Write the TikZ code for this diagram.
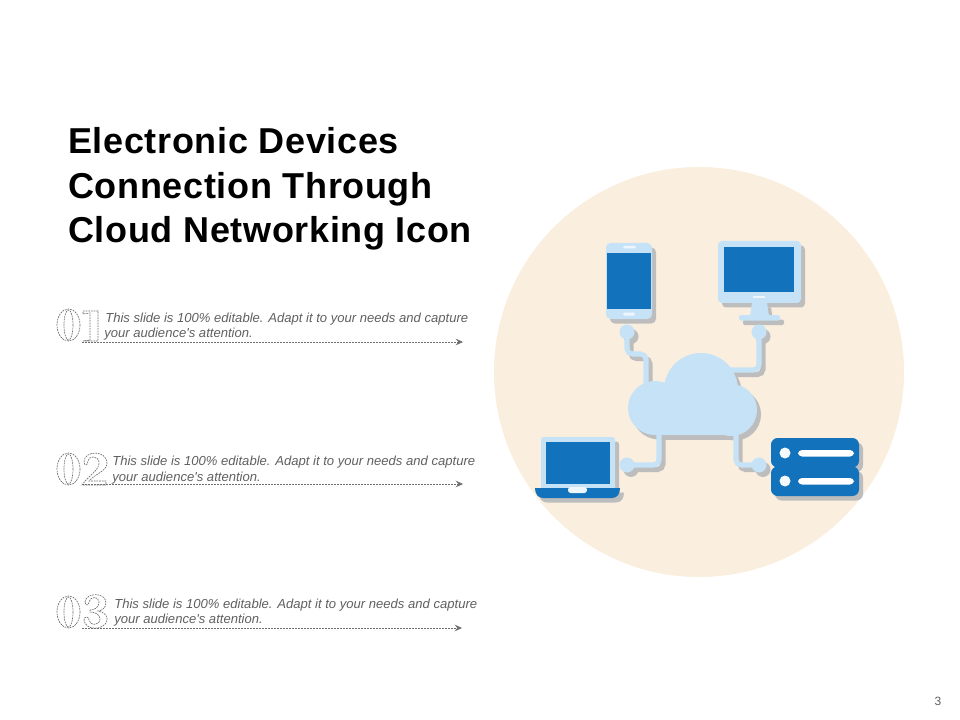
\documentclass[tikz,border=0pt]{standalone}
\usepackage{fontspec}
\setmainfont{Liberation Sans}[Ligatures=TeXOff]
\usetikzlibrary{arrows.meta}
\definecolor{peach}{HTML}{FAEEDF}
\definecolor{lightblue}{HTML}{C6E2F7}
\definecolor{deepblue}{HTML}{1272BB}
\definecolor{shadowgrey}{HTML}{BDBDBD}
\definecolor{bodygrey}{HTML}{606060}
\definecolor{dashgrey}{HTML}{6E6E6E}
\newfontface\titleface{Liberation Sans Bold}[LetterSpace=1.8]
\tikzset{
  titletext/.style={anchor=base west,inner sep=0pt,font=\fontsize{27}{27}\titleface,text=black},
  bodytext/.style={anchor=base west,inner sep=0pt,font=\fontsize{9.8}{9.8}\selectfont\itshape,text=bodygrey},
  numoutline/.style={draw=dashgrey,line width=0.5pt,dash pattern=on 1.3pt off 0.7pt},
  leader/.style={draw=dashgrey,line width=0.55pt,dash pattern=on 1.5pt off 0.75pt,-{Stealth[length=5.5pt,width=5pt,inset=2pt,fill=dashgrey]}},
}
% The device artwork, drawn once for the shadow and once for the face
\newcommand{\wires}[1]{%
  \begin{scope}[draw=#1,line width=3.8pt,fill=none]
    \draw[rounded corners=4pt] (627,332) -- (627,354) -- (646,354) -- (646,385);
    \draw[rounded corners=4pt] (759,332) -- (759,370) -- (730,370);
    \draw[rounded corners=4pt] (627,465) -- (659,465) -- (659,430);
    \draw[rounded corners=4pt] (736,430) -- (736,465) -- (759,465);
  \end{scope}
  \fill[#1] (627,332) circle[radius=7.5] (759,332) circle[radius=7.5]
            (627,465) circle[radius=7.5] (759,465) circle[radius=7.5];
}
\newcommand{\cloudshape}[1]{%
  \fill[#1] (701,390) circle[radius=37] (655,408) circle[radius=27]
            (731,410) circle[radius=26];
  \fill[#1] (655,395) rectangle (731,435);
}
\newcommand{\phoneshape}[1]{\fill[#1,rounded corners=3.5pt] (606,243) rectangle (652,319);}
\newcommand{\monitorshape}[1]{%
  \fill[#1,rounded corners=3pt] (718,241) rectangle (801,303);
  \fill[#1] (752,303) -- (767,303) -- (769,316) -- (750,316) -- cycle;
  \fill[#1,rounded corners=1.5pt] (739,315) rectangle (780,320.5);
}
\newcommand{\laptopscreen}[1]{\fill[#1,rounded corners=2pt] (541,437) rectangle (615,490);}
\newcommand{\laptopbase}[1]{%
  \fill[#1] (535,488) -- (620,488) .. controls (620,494) and (617,498) .. (612,498)
     -- (543,498) .. controls (538,498) and (535,494) .. (535,488) -- cycle;
}
\newcommand{\servershape}[1]{%
  \fill[#1,rounded corners=5pt] (771,438) rectangle (859,467.5);
  \fill[#1,rounded corners=5pt] (771,466.5) rectangle (859,496);
}
\begin{document}
\begin{tikzpicture}[x=0.75pt,y=-0.75pt]
  \fill[white] (0,0) rectangle (960,720);
  \useasboundingbox (0,0) rectangle (960,720);
  \fill[peach] (699,372) circle[radius=205];

  % shadows
  \begin{scope}[shift={(4,4.5)}]
    \wires{shadowgrey}
    \cloudshape{shadowgrey}
    \phoneshape{shadowgrey}
    \monitorshape{shadowgrey}
    \laptopscreen{shadowgrey}
    \laptopbase{shadowgrey}
    \servershape{shadowgrey}
  \end{scope}

  % faces
  \wires{lightblue}
  \cloudshape{lightblue}

  \phoneshape{lightblue}
  \fill[deepblue] (607,253) rectangle (651,309);
  \fill[white!70!lightblue,rounded corners=1pt] (623,246) rectangle (636,248.5);
  \fill[white!70!lightblue,rounded corners=1pt] (623,312.5) rectangle (635,315.5);

  \monitorshape{lightblue}
  \fill[deepblue] (724,247) rectangle (794,292);
  \fill[white!70!lightblue] (753,296) rectangle (765,298.5);

  \laptopscreen{lightblue}
  \fill[deepblue] (546,442) rectangle (610,484);
  \laptopbase{deepblue}
  \fill[white!70!lightblue,rounded corners=2pt] (568,487) rectangle (587,493);

  \servershape{deepblue}
  \fill[white!80!lightblue] (785,453) circle[radius=5.5] (785,481) circle[radius=5.5];
  \fill[white,rounded corners=3pt] (798,450) rectangle (854,456.5);
  \fill[white,rounded corners=3pt] (798,478) rectangle (854,484.5);

  % title
  \node[titletext] (t1) at (68,153.5) {Electronic Devices};
  \node[titletext] (t2) at (68,198.5) {Connection Through};
  \node[titletext] (t3) at (68,243) {Cloud Networking Icon};

  % item 1
  \node[bodytext] (a1) at (105,322) {This slide is 100\% editable. Adapt it to your needs and capture};
  \node[bodytext] (a2) at (104,337) {your audience's attention.};
  \coordinate (a3) at (82,342); \coordinate (a4) at (463,342);
  \draw[leader] (a3) -- (a4);
  % item 2
  \node[bodytext] (b1) at (112,465) {This slide is 100\% editable. Adapt it to your needs and capture};
  \node[bodytext] (b2) at (112,481) {your audience's attention.};
  \coordinate (b3) at (82,484); \coordinate (b4) at (463,484);
  \draw[leader] (b3) -- (b4);
  % item 3
  \node[bodytext] (c1) at (114,608) {This slide is 100\% editable. Adapt it to your needs and capture};
  \node[bodytext] (c2) at (114,623) {your audience's attention.};
  \coordinate (c3) at (82,628); \coordinate (c4) at (462,628);
  \draw[leader] (c3) -- (c4);

  % outlined numerals
  \foreach \yc in {325,469,612}{
    \draw[numoutline] (68.5,\yc) ellipse[x radius=11.5,y radius=16];
    \draw[numoutline] (68.5,\yc) ellipse[x radius=4.5,y radius=15];
  }
  % 1
  \draw[numoutline] (83,311) -- (98,311) -- (98,341) -- (83,341) -- (90,340) -- (90,313) -- (83,314) -- cycle;
  % 2
  \draw[numoutline] (84,462) .. controls (84,450) and (107,450) .. (107,463)
     .. controls (107,471) and (95,474) .. (89,481) -- (106,481) -- (106,485) -- (82,485)
     .. controls (88,476) and (100,470) .. (99,462) .. controls (98,455) and (88,456) .. (88,461)
     .. controls (88,466) and (84,466) .. (84,462) -- cycle;
  % 3
  \draw[numoutline] (85,602) .. controls (86,592) and (106,592) .. (106,603)
     .. controls (106,608) and (101,611) .. (98,611)
     .. controls (104,612) and (108,616) .. (107,620)
     .. controls (105,631) and (85,631) .. (84,620)
     .. controls (84,616) and (89,616) .. (89,620)
     .. controls (89,626) and (100,626) .. (100,619)
     .. controls (100,614) and (94,612) .. (90,612) -- (90,610)
     .. controls (94,610) and (99,608) .. (99,602)
     .. controls (99,596) and (90,596) .. (89,602)
     .. controls (89,606) and (85,606) .. (85,602) -- cycle;

  \node[inner sep=0pt,font=\fontsize{9}{9}\selectfont,text=bodygrey] (pg) at (938,701) {3};
\end{tikzpicture}
\end{document}
